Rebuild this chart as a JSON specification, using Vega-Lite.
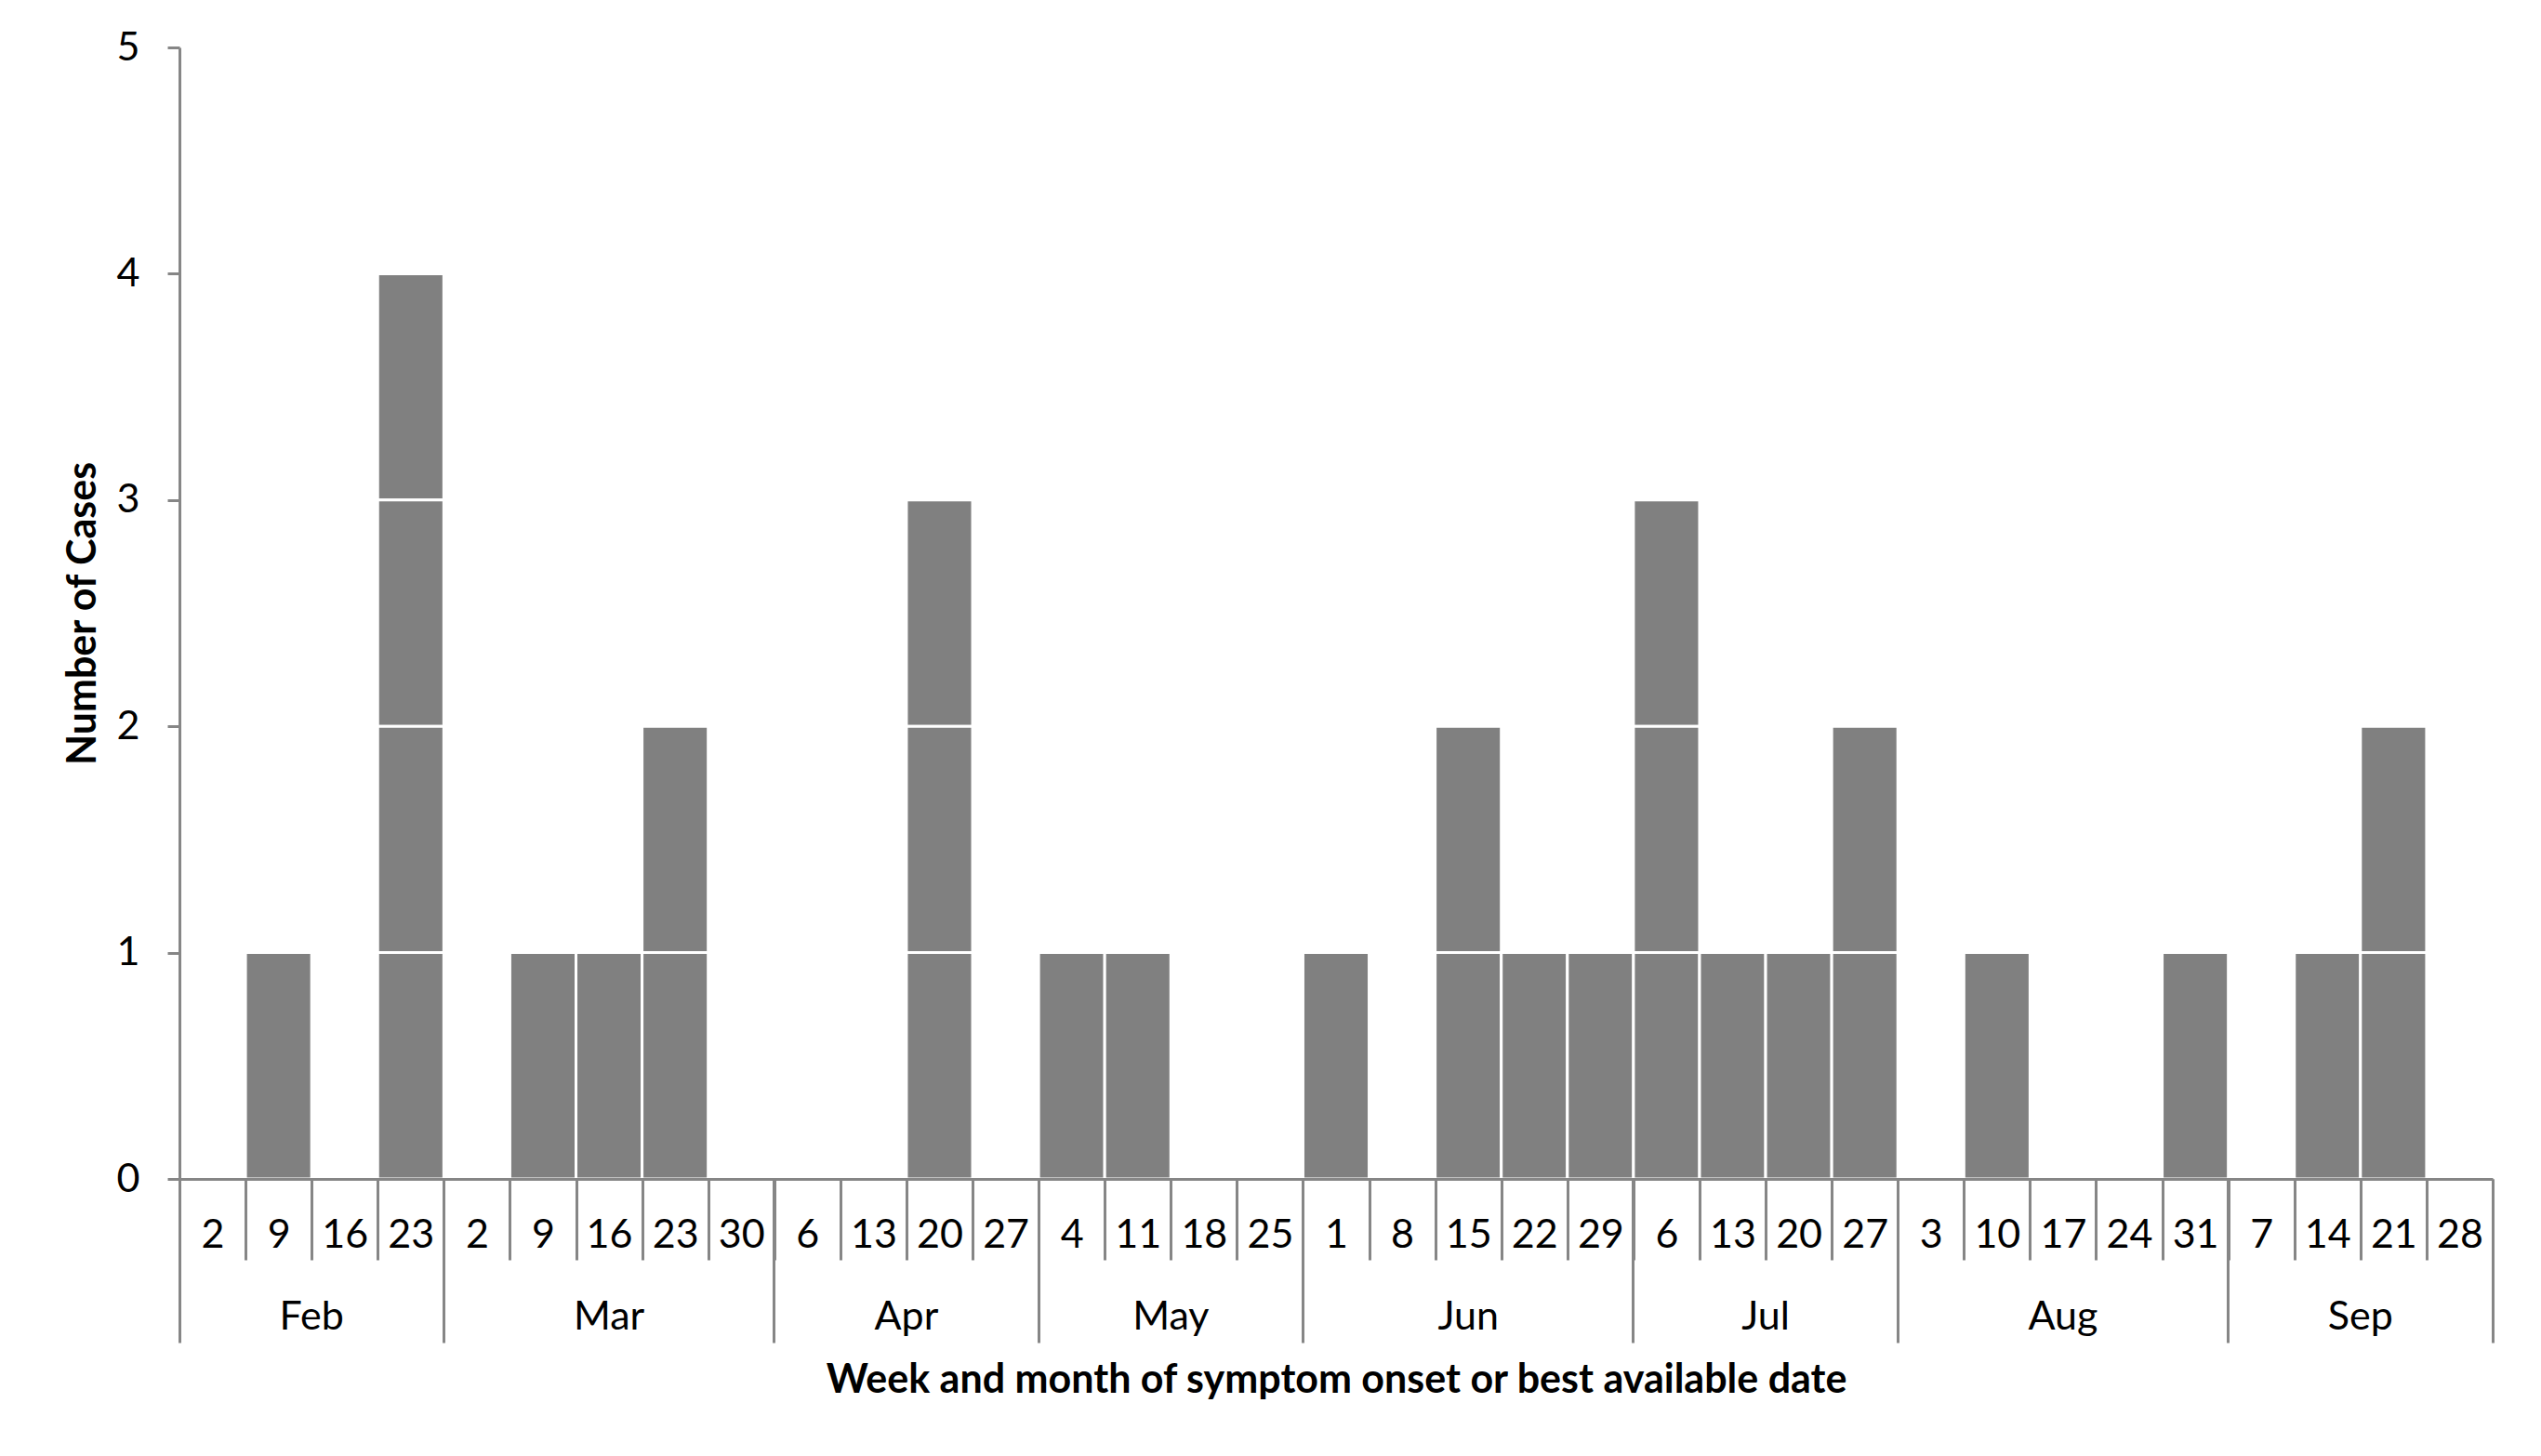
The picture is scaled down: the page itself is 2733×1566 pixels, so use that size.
{
  "$schema": "https://vega.github.io/schema/vega-lite/v6.json",
  "autosize": {"type": "none"},
  "padding": {"left": 193, "top": 51, "right": 52, "bottom": 298},
  "width": 2488,
  "height": 1217,
  "background": "white",
  "config": {"view": {"stroke": null}},
  "data": {"values": [
    {"week": "Feb 9", "case": 1},
    {"week": "Feb 23", "case": 1}, {"week": "Feb 23", "case": 2}, {"week": "Feb 23", "case": 3}, {"week": "Feb 23", "case": 4},
    {"week": "Mar 9", "case": 1},
    {"week": "Mar 16", "case": 1},
    {"week": "Mar 23", "case": 1}, {"week": "Mar 23", "case": 2},
    {"week": "Apr 20", "case": 1}, {"week": "Apr 20", "case": 2}, {"week": "Apr 20", "case": 3},
    {"week": "May 4", "case": 1},
    {"week": "May 11", "case": 1},
    {"week": "Jun 1", "case": 1},
    {"week": "Jun 15", "case": 1}, {"week": "Jun 15", "case": 2},
    {"week": "Jun 22", "case": 1},
    {"week": "Jun 29", "case": 1},
    {"week": "Jul 6", "case": 1}, {"week": "Jul 6", "case": 2}, {"week": "Jul 6", "case": 3},
    {"week": "Jul 13", "case": 1},
    {"week": "Jul 20", "case": 1},
    {"week": "Jul 27", "case": 1}, {"week": "Jul 27", "case": 2},
    {"week": "Aug 10", "case": 1},
    {"week": "Aug 31", "case": 1},
    {"week": "Sep 14", "case": 1},
    {"week": "Sep 21", "case": 1}, {"week": "Sep 21", "case": 2}
  ]},
  "resolve": {"axis": {"x": "independent"}, "scale": {"x": "shared"}},
  "layer": [
    {
      "mark": {"type": "bar", "color": "#808080", "stroke": "white", "strokeWidth": 3},
      "encoding": {
        "x": {
          "field": "week", "type": "nominal",
          "scale": {"domain": ["Feb 2","Feb 9","Feb 16","Feb 23","Mar 2","Mar 9","Mar 16","Mar 23","Mar 30","Apr 6","Apr 13","Apr 20","Apr 27","May 4","May 11","May 18","May 25","Jun 1","Jun 8","Jun 15","Jun 22","Jun 29","Jul 6","Jul 13","Jul 20","Jul 27","Aug 3","Aug 10","Aug 17","Aug 24","Aug 31","Sep 7","Sep 14","Sep 21","Sep 28"], "paddingInner": 0, "paddingOuter": 0},
          "axis": {
            "orient": "bottom", "title": null, "tickBand": "extent", "tickSize": 87, "tickWidth": 3, "tickColor": "#868686",
            "domainColor": "#868686", "domainWidth": 3, "labelFont": "Lato", "labelFontSize": 43, "labelColor": "#000000",
            "labelAngle": 0, "labelBaseline": "top", "labelPadding": -48, "labelExpr": "split(datum.label, ' ')[1]", "zindex": 1
          }
        },
        "y": {
          "aggregate": "count", "type": "quantitative",
          "scale": {"domain": [0, 5], "nice": false},
          "axis": {
            "values": [0, 1, 2, 3, 4, 5], "format": "d", "grid": false, "tickSize": 13, "tickWidth": 3, "tickColor": "#868686",
            "domainColor": "#868686", "domainWidth": 3, "labelFont": "Lato", "labelFontSize": 43, "labelColor": "#000000",
            "labelPadding": 30, "title": "Number of Cases", "titleFont": "Lato", "titleFontSize": 43, "titleFontWeight": "bold",
            "titleColor": "#000000", "titlePadding": 14, "zindex": 1
          }
        },
        "detail": {"field": "case", "type": "ordinal"}
      }
    },
    {
      "mark": {"type": "point", "opacity": 0},
      "encoding": {
        "x": {
          "field": "week", "type": "nominal",
          "scale": {"domain": ["Feb 2","Feb 9","Feb 16","Feb 23","Mar 2","Mar 9","Mar 16","Mar 23","Mar 30","Apr 6","Apr 13","Apr 20","Apr 27","May 4","May 11","May 18","May 25","Jun 1","Jun 8","Jun 15","Jun 22","Jun 29","Jul 6","Jul 13","Jul 20","Jul 27","Aug 3","Aug 10","Aug 17","Aug 24","Aug 31","Sep 7","Sep 14","Sep 21","Sep 28"], "paddingInner": 0, "paddingOuter": 0},
          "axis": {
            "orient": "bottom", "title": null, "values": ["Feb 2","Mar 2","Apr 6","May 4","Jun 1","Jul 6","Aug 3","Sep 7"],
            "bandPosition": 0, "labels": false, "domain": false, "tickSize": 176, "tickWidth": 3, "tickColor": "#868686", "zindex": 1
          }
        }
      }
    },
    {
      "mark": {"type": "point", "opacity": 0},
      "encoding": {
        "x": {
          "field": "week", "type": "nominal",
          "scale": {"domain": ["Feb 2","Feb 9","Feb 16","Feb 23","Mar 2","Mar 9","Mar 16","Mar 23","Mar 30","Apr 6","Apr 13","Apr 20","Apr 27","May 4","May 11","May 18","May 25","Jun 1","Jun 8","Jun 15","Jun 22","Jun 29","Jul 6","Jul 13","Jul 20","Jul 27","Aug 3","Aug 10","Aug 17","Aug 24","Aug 31","Sep 7","Sep 14","Sep 21","Sep 28"], "paddingInner": 0, "paddingOuter": 0},
          "axis": {
            "orient": "bottom", "title": null, "values": ["Sep 28"],
            "bandPosition": 1, "labels": false, "domain": false, "tickSize": 176, "tickWidth": 3, "tickColor": "#868686", "zindex": 1
          }
        }
      }
    },
    {
      "mark": {"type": "point", "opacity": 0},
      "encoding": {
        "x": {
          "field": "week", "type": "nominal",
          "scale": {"domain": ["Feb 2","Feb 9","Feb 16","Feb 23","Mar 2","Mar 9","Mar 16","Mar 23","Mar 30","Apr 6","Apr 13","Apr 20","Apr 27","May 4","May 11","May 18","May 25","Jun 1","Jun 8","Jun 15","Jun 22","Jun 29","Jul 6","Jul 13","Jul 20","Jul 27","Aug 3","Aug 10","Aug 17","Aug 24","Aug 31","Sep 7","Sep 14","Sep 21","Sep 28"], "paddingInner": 0, "paddingOuter": 0},
          "axis": {
            "orient": "bottom", "values": ["Feb 9","Apr 13","May 11","Jul 13","Sep 14"],
            "ticks": false, "tickSize": 0, "domain": false, "labelOffset": 35.54,
            "labelFont": "Lato", "labelFontSize": 43, "labelColor": "#000000", "labelAngle": 0, "labelBaseline": "top", "labelPadding": 127,
            "labelExpr": "split(datum.label, ' ')[0]",
            "title": "Week and month of symptom onset or best available date", "titleFont": "Lato", "titleFontSize": 43,
            "titleFontWeight": "bold", "titleColor": "#000000", "titlePadding": 25
          }
        }
      }
    },
    {
      "mark": {"type": "point", "opacity": 0},
      "encoding": {
        "x": {
          "field": "week", "type": "nominal",
          "scale": {"domain": ["Feb 2","Feb 9","Feb 16","Feb 23","Mar 2","Mar 9","Mar 16","Mar 23","Mar 30","Apr 6","Apr 13","Apr 20","Apr 27","May 4","May 11","May 18","May 25","Jun 1","Jun 8","Jun 15","Jun 22","Jun 29","Jul 6","Jul 13","Jul 20","Jul 27","Aug 3","Aug 10","Aug 17","Aug 24","Aug 31","Sep 7","Sep 14","Sep 21","Sep 28"], "paddingInner": 0, "paddingOuter": 0},
          "axis": {
            "orient": "bottom", "title": null, "values": ["Mar 16","Jun 15","Aug 17"],
            "ticks": false, "tickSize": 0, "domain": false,
            "labelFont": "Lato", "labelFontSize": 43, "labelColor": "#000000", "labelAngle": 0, "labelBaseline": "top", "labelPadding": 127,
            "labelExpr": "split(datum.label, ' ')[0]"
          }
        }
      }
    }
  ]
}
